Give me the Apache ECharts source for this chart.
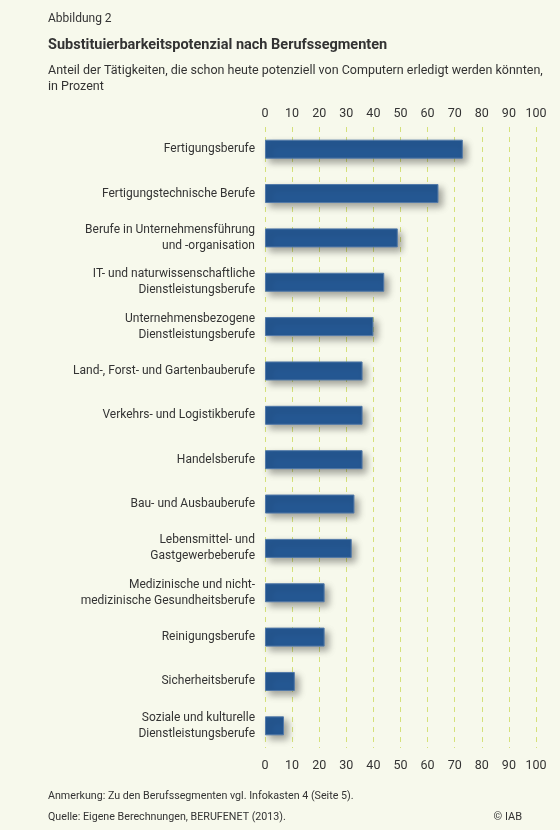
<!DOCTYPE html>
<html>
<head>
<meta charset="utf-8">
<script src="https://cdn.jsdelivr.net/npm/echarts@6/dist/echarts.min.js"></script>
<style>
html,body{margin:0;padding:0;background:#f7f9ec;}
#c{width:560px;height:830px;}
</style>
</head>
<body>
<div id="c"></div>
<script>
const categories = [
  'Fertigungsberufe',
  'Fertigungstechnische Berufe',
  'Berufe in Unternehmensführung\nund -organisation',
  'IT- und naturwissenschaftliche\nDienstleistungsberufe',
  'Unternehmensbezogene\nDienstleistungsberufe',
  'Land-, Forst- und Gartenbauberufe',
  'Verkehrs- und Logistikberufe',
  'Handelsberufe',
  'Bau- und Ausbauberufe',
  'Lebensmittel- und\nGastgewerbeberufe',
  'Medizinische und nicht-\nmedizinische Gesundheitsberufe',
  'Reinigungsberufe',
  'Sicherheitsberufe',
  'Soziale und kulturelle\nDienstleistungsberufe'
];
const values = [73, 64, 49, 44, 40, 36, 36, 36, 33, 32, 22, 22, 11, 7];
const axisMin = 0, axisMax = 100, axisStep = 10;

const FONT = 'Roboto';
const TXT = '#333333';
const chart = echarts.init(document.getElementById('c'), null, {renderer: 'canvas'});
chart.setOption({
  backgroundColor: '#f7f9ec',
  animation: false,
  textStyle: {fontFamily: FONT, color: TXT},
  title: [
    {text: 'Abbildung 2', left: 48, top: 13, padding: 0, textStyle: {fontFamily: FONT, fontSize: 12, fontWeight: 'normal', color: TXT}},
    {text: 'Substituierbarkeitspotenzial nach Berufssegmenten', left: 48, top: 38, padding: 0, textStyle: {fontFamily: FONT, fontSize: 14.5, fontWeight: 'bold', color: TXT}},
    {text: 'Anteil der Tätigkeiten, die schon heute potenziell von Computern erledigt werden könnten,\nin Prozent', left: 48, top: 63, padding: 0, textStyle: {fontFamily: FONT, fontSize: 12.5, fontWeight: 'normal', color: TXT, lineHeight: 16}},
    {text: 'Anmerkung: Zu den Berufssegmenten vgl. Infokasten 4 (Seite 5).', left: 48, top: 791, padding: 0, textStyle: {fontFamily: FONT, fontSize: 10.7, fontWeight: 'normal', color: TXT}},
    {text: 'Quelle: Eigene Berechnungen, BERUFENET (2013).', left: 48, top: 812, padding: 0, textStyle: {fontFamily: FONT, fontSize: 10.7, fontWeight: 'normal', color: TXT}},
    {text: '© IAB', right: 38, top: 812, padding: 0, textStyle: {fontFamily: FONT, fontSize: 11, fontWeight: 'normal', color: TXT}}
  ],
  grid: {left: 265, right: 24, top: 127, bottom: 82, containLabel: false},
  xAxis: [
    {
      type: 'value', position: 'top', min: axisMin, max: axisMax, interval: axisStep,
      axisLine: {show: false}, axisTick: {show: false},
      axisLabel: {fontFamily: FONT, fontSize: 12.5, color: TXT, margin: 7},
      splitLine: {show: true, lineStyle: {color: '#d5e17a', width: 1, type: [5, 5]}}
    },
    {
      type: 'value', position: 'bottom', min: axisMin, max: axisMax, interval: axisStep,
      axisLine: {show: false}, axisTick: {show: false},
      axisLabel: {fontFamily: FONT, fontSize: 12.5, color: TXT, margin: 11},
      splitLine: {show: false}
    }
  ],
  yAxis: {
    type: 'category', data: categories, inverse: true,
    axisLine: {show: false}, axisTick: {show: false},
    axisLabel: {fontFamily: FONT, fontSize: 12, color: TXT, margin: 10, lineHeight: 16, align: 'right'}
  },
  series: [{
    type: 'bar', data: values, xAxisIndex: 0, barWidth: 19,
    itemStyle: {
      color: '#255893', borderColor: '#5279a8', borderWidth: 1,
      shadowColor: 'rgba(0,0,0,0.35)', shadowBlur: 7, shadowOffsetX: 4, shadowOffsetY: 4
    }
  }]
});
</script>
</body>
</html>
